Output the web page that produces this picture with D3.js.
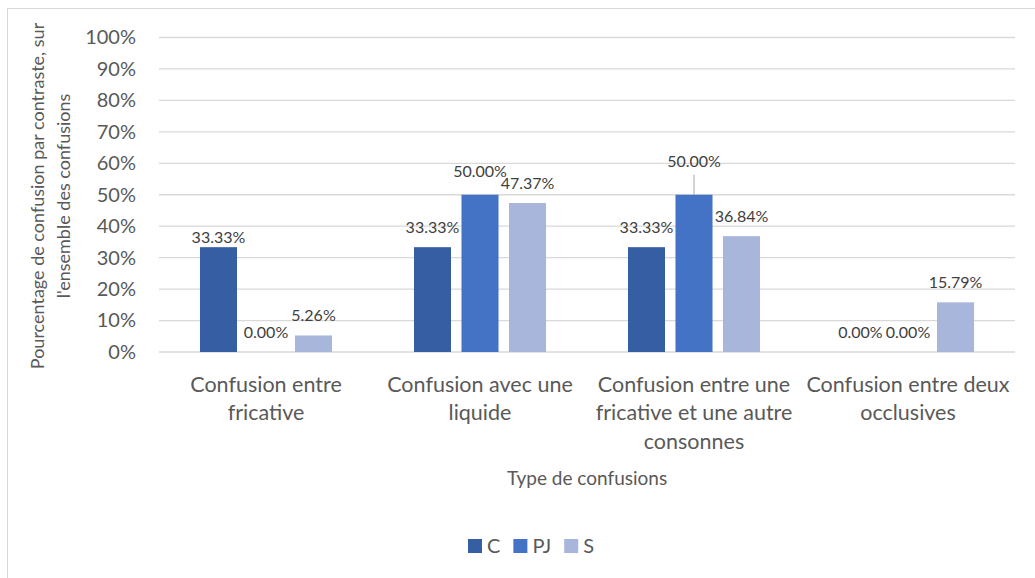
<!DOCTYPE html>
<html><head><meta charset="utf-8">
<script src="https://cdn.jsdelivr.net/npm/d3@7"></script>
<style>body{margin:0;background:#fff} svg{display:block} text{font-family:Lato, "Open Sans", sans-serif}</style>
</head><body><svg id="c" width="1035" height="578"></svg>
<script>
const categories = ["Confusion entre\nfricative", "Confusion avec une\nliquide", "Confusion entre une\nfricative et une autre\nconsonnes", "Confusion entre deux\nocclusives"];
const seriesNames = ["C", "PJ", "S"];
const valuesC = [33.33, 33.33, 33.33, 0.00];
const valuesPJ = [0.00, 50.00, 50.00, 0.00];
const valuesS = [5.26, 47.37, 36.84, 15.79];
const yTicks = [0, 10, 20, 30, 40, 50, 60, 70, 80, 90, 100];
const xTitle = "Type de confusions";
const yTitle = ["Pourcentage de confusion par contraste, sur", "l'ensemble des confusions"];

const colors = {C: "#365ea3", PJ: "#4472c4", S: "#a8b6db"};
const seriesValues = {C: valuesC, PJ: valuesPJ, S: valuesS};
// manual label nudges (px, + = down) as in the original
const labelNudge = {"0-C": 10, "1-PJ": -3.5, "2-PJ": -13};
const leader = {"2-PJ": true};

const svg = d3.select("#c");
svg.append("rect").attr("x", 7.5).attr("y", 8.5).attr("width", 1100).attr("height", 700)
  .attr("fill", "none").attr("stroke", "#d9d9d9").attr("stroke-width", 1);

const x = d3.scaleBand().domain(categories).range([159, 1015]);
const y = d3.scaleLinear().domain([0, 100]).range([352, 37.5]);
const bw = x.bandwidth();
const sub = d3.scalePoint().domain(seriesNames).range([bw * 0.5 - bw * 0.222, bw * 0.5 + bw * 0.222]);
const barW = bw * 0.173;

// gridlines
svg.append("g").selectAll("line").data(yTicks).join("line")
  .attr("x1", 159).attr("x2", 1015)
  .attr("y1", d => y(d)).attr("y2", d => y(d))
  .attr("stroke", "#d9d9d9").attr("stroke-width", 1.3);

// y axis
const yAxis = svg.append("g").attr("transform", "translate(159,0)")
  .call(d3.axisLeft(y).tickValues(yTicks).tickFormat(d => d + "%").tickSize(0).tickPadding(23));
yAxis.select(".domain").remove();
yAxis.selectAll("text").attr("fill", "#595959").style("font-size", "20px").style("font-family", "Lato");

// bars
const data = [];
categories.forEach((c, i) => seriesNames.forEach(s => data.push({c, i, s, v: seriesValues[s][i]})));
svg.append("g").selectAll("rect").data(data).join("rect")
  .attr("x", d => x(d.c) + sub(d.s) - barW / 2)
  .attr("width", barW)
  .attr("y", d => y(d.v))
  .attr("height", d => y(0) - y(d.v))
  .attr("fill", d => colors[d.s]);

// leader lines
svg.append("g").selectAll("line").data(data.filter(d => leader[d.i + "-" + d.s])).join("line")
  .attr("x1", d => x(d.c) + sub(d.s)).attr("x2", d => x(d.c) + sub(d.s))
  .attr("y1", d => y(d.v)).attr("y2", d => y(d.v) - 20)
  .attr("stroke", "#a6a6a6").attr("stroke-width", 1);

// data labels
svg.append("g").selectAll("text").data(data).join("text")
  .attr("x", d => x(d.c) + sub(d.s))
  .attr("y", d => y(d.v) - 20 + (labelNudge[d.i + "-" + d.s] || 0))
  .attr("dy", "0.35em")
  .attr("text-anchor", "middle")
  .attr("fill", "#404040").style("font-size", "16px")
  .text(d => d.v.toFixed(2) + "%");

// category labels
const cat = svg.append("g").selectAll("text").data(categories).join("text")
  .attr("text-anchor", "middle").attr("fill", "#595959").style("font-size", "21.5px");
cat.each(function(c) {
  d3.select(this).selectAll("tspan").data(c.split("\n")).join("tspan")
    .attr("x", x(c) + bw / 2).attr("y", (d, k) => 391.7 + k * 28.5).text(d => d);
});

// x title
svg.append("text").attr("x", 587).attr("y", 485).attr("text-anchor", "middle")
  .attr("fill", "#595959").style("font-size", "19px").text(xTitle);

// y title
yTitle.forEach((t, k) => {
  svg.append("text").attr("transform", `translate(${44 + k * 26},196) rotate(-90)`)
    .attr("text-anchor", "middle").attr("fill", "#595959").style("font-size", "18px").text(t);
});

// legend
const lg = svg.append("g");
let lx = 468;
seriesNames.forEach(s => {
  lg.append("rect").attr("x", lx).attr("y", 539).attr("width", 14).attr("height", 14).attr("fill", colors[s]);
  const t = lg.append("text").attr("x", lx + 19).attr("y", 553).attr("fill", "#595959")
    .style("font-size", "20px").text(s);
  lx += 19 + t.node().getComputedTextLength() + 13;
});
</script></body></html>
